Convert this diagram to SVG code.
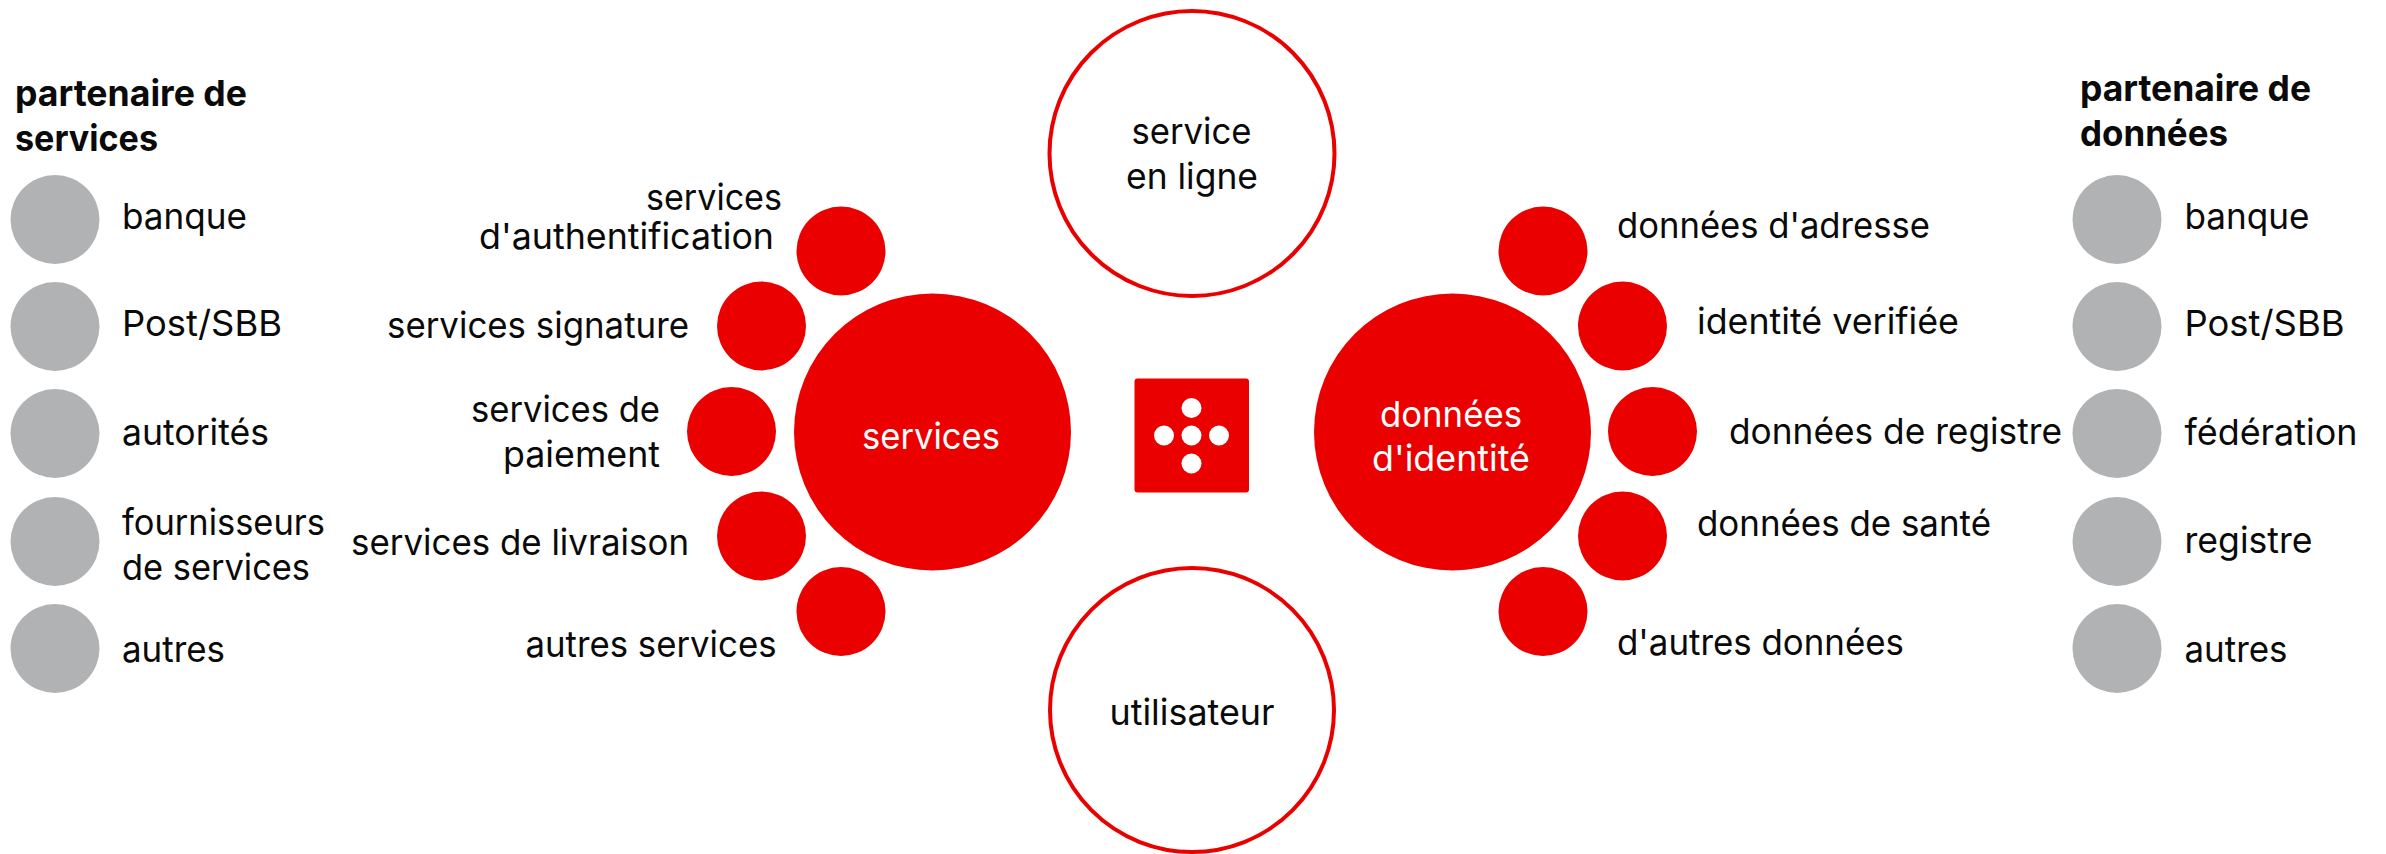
<svg xmlns="http://www.w3.org/2000/svg" width="2386" height="854" viewBox="0 0 2386 854">
<style>
text{font-family:"Inter","Liberation Sans",sans-serif;font-size:36px;fill:#0a0a0a;font-variant-ligatures:none}
.b{font-weight:700}
.w{fill:#fff}
.g{fill:#b1b2b4}
.r{fill:#eb0000}
.o{fill:#fff;stroke:#eb0000;stroke-width:4}
</style>
<rect width="2386" height="854" fill="#fff"/>
<g id="connectors"/>
<g id="heading-services"><text class="b" x="15" y="106" textLength="232" lengthAdjust="spacingAndGlyphs">partenaire de</text><text class="b" x="15" y="151" textLength="143" lengthAdjust="spacingAndGlyphs">services</text></g>
<g id="heading-donnees"><text class="b" x="2080" y="101" textLength="231" lengthAdjust="spacingAndGlyphs">partenaire de</text><text class="b" x="2080" y="146" textLength="148" lengthAdjust="spacingAndGlyphs">données</text></g>
<g id="sp-banque"><circle class="g" cx="55" cy="219.5" r="44.5"/><text x="122" y="229" textLength="125" lengthAdjust="spacingAndGlyphs">banque</text></g>
<g id="sp-post"><circle class="g" cx="55" cy="326.5" r="44.5"/><text x="122" y="336" textLength="160" lengthAdjust="spacingAndGlyphs">Post/SBB</text></g>
<g id="sp-autorites"><circle class="g" cx="55" cy="433.5" r="44.5"/><text x="122" y="445" textLength="147" lengthAdjust="spacingAndGlyphs">autorités</text></g>
<g id="sp-fournisseurs"><circle class="g" cx="55" cy="541.5" r="44.5"/><text x="122" y="535" textLength="203" lengthAdjust="spacingAndGlyphs">fournisseurs</text><text x="122" y="580" textLength="188" lengthAdjust="spacingAndGlyphs">de services</text></g>
<g id="sp-autres"><circle class="g" cx="55" cy="648.5" r="44.5"/><text x="122" y="662" textLength="103" lengthAdjust="spacingAndGlyphs">autres</text></g>
<g id="dp-banque"><circle class="g" cx="2117" cy="219.5" r="44.5"/><text x="2184.5" y="229" textLength="125" lengthAdjust="spacingAndGlyphs">banque</text></g>
<g id="dp-post"><circle class="g" cx="2117" cy="326.5" r="44.5"/><text x="2184.5" y="336" textLength="160" lengthAdjust="spacingAndGlyphs">Post/SBB</text></g>
<g id="dp-federation"><circle class="g" cx="2117" cy="433.5" r="44.5"/><text x="2184.5" y="445" textLength="173" lengthAdjust="spacingAndGlyphs">fédération</text></g>
<g id="dp-registre"><circle class="g" cx="2117" cy="541.5" r="44.5"/><text x="2184.5" y="553" textLength="128" lengthAdjust="spacingAndGlyphs">registre</text></g>
<g id="dp-autres"><circle class="g" cx="2117" cy="648.5" r="44.5"/><text x="2184.5" y="662" textLength="103" lengthAdjust="spacingAndGlyphs">autres</text></g>
<g id="svc-auth"><circle class="r" cx="841" cy="251" r="44.5"/><text x="646" y="210" textLength="136" lengthAdjust="spacingAndGlyphs">services</text><text x="479" y="249" textLength="295" lengthAdjust="spacingAndGlyphs">d'authentification</text></g>
<g id="svc-signature"><circle class="r" cx="761.5" cy="326" r="44.5"/><text x="387" y="338" textLength="302" lengthAdjust="spacingAndGlyphs">services signature</text></g>
<g id="svc-paiement"><circle class="r" cx="731.5" cy="431.5" r="44.5"/><text x="471" y="422" textLength="189" lengthAdjust="spacingAndGlyphs">services de</text><text x="503" y="467" textLength="157" lengthAdjust="spacingAndGlyphs">paiement</text></g>
<g id="svc-livraison"><circle class="r" cx="761.5" cy="536" r="44.5"/><text x="351" y="555" textLength="338" lengthAdjust="spacingAndGlyphs">services de livraison</text></g>
<g id="svc-autres"><circle class="r" cx="841" cy="611.5" r="44.5"/><text x="525.5" y="657" textLength="251" lengthAdjust="spacingAndGlyphs">autres services</text></g>
<g id="don-adresse"><circle class="r" cx="1543" cy="251" r="44.5"/><text x="1617" y="238" textLength="313" lengthAdjust="spacingAndGlyphs">données d'adresse</text></g>
<g id="don-identite"><circle class="r" cx="1622.5" cy="326" r="44.5"/><text x="1697" y="334" textLength="262" lengthAdjust="spacingAndGlyphs">identité verifiée</text></g>
<g id="don-registre"><circle class="r" cx="1652.5" cy="431.5" r="44.5"/><text x="1729" y="444" textLength="333" lengthAdjust="spacingAndGlyphs">données de registre</text></g>
<g id="don-sante"><circle class="r" cx="1622.5" cy="536" r="44.5"/><text x="1697" y="536" textLength="294" lengthAdjust="spacingAndGlyphs">données de santé</text></g>
<g id="don-autres"><circle class="r" cx="1543" cy="611.5" r="44.5"/><text x="1617" y="655" textLength="287" lengthAdjust="spacingAndGlyphs">d'autres données</text></g>
<g id="services"><circle class="r" cx="932.5" cy="432" r="138.5"/><text class="w" x="862" y="448.5" textLength="138" lengthAdjust="spacingAndGlyphs">services</text></g>
<g id="donnees-identite"><circle class="r" cx="1452.5" cy="432" r="138.5"/><text class="w" x="1380" y="427" textLength="142" lengthAdjust="spacingAndGlyphs">données</text><text class="w" x="1372" y="471" textLength="158" lengthAdjust="spacingAndGlyphs">d'identité</text></g>
<g id="service-en-ligne"><circle class="o" cx="1192" cy="153.5" r="142.5"/><text x="1131.5" y="144" textLength="120" lengthAdjust="spacingAndGlyphs">service</text><text x="1126" y="189" textLength="132" lengthAdjust="spacingAndGlyphs">en ligne</text></g>
<g id="utilisateur"><circle class="o" cx="1192" cy="710" r="142"/><text x="1109.5" y="724.5" textLength="165" lengthAdjust="spacingAndGlyphs">utilisateur</text></g>
<g id="logo"><rect class="r" x="1134.5" y="378.5" width="114.5" height="114" rx="3"/><g fill="#fff"><circle cx="1191.5" cy="408" r="10"/><circle cx="1164" cy="435.5" r="10"/><circle cx="1191.5" cy="435.5" r="10"/><circle cx="1219" cy="435.5" r="10"/><circle cx="1191.5" cy="463.5" r="10"/></g></g>
</svg>
